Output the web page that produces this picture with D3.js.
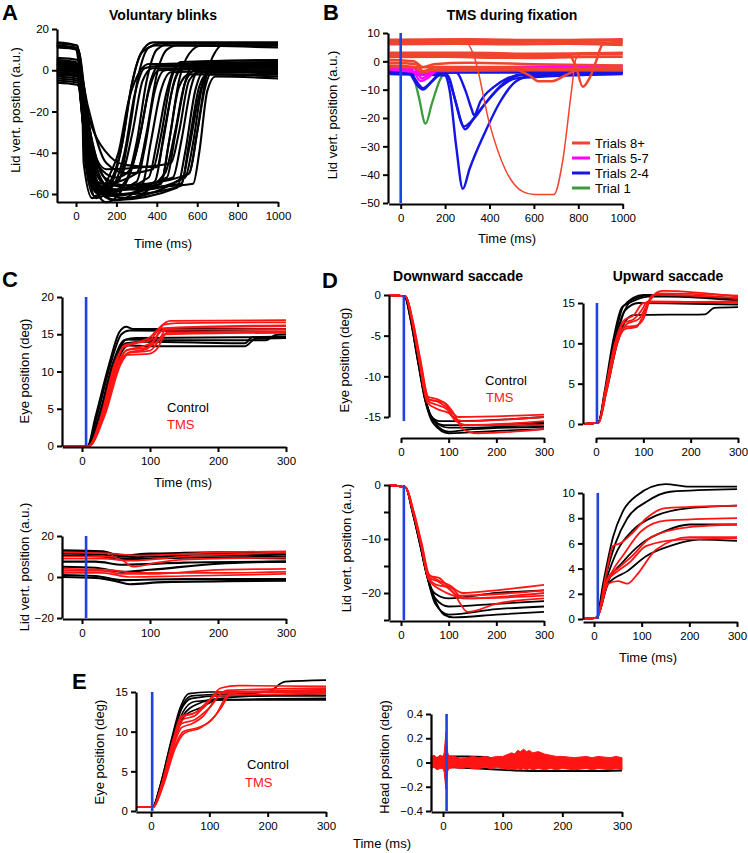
<!DOCTYPE html>
<html><head><meta charset="utf-8">
<script src="https://cdn.jsdelivr.net/npm/d3@7"></script>
<style>body{margin:0;background:#fff} svg{display:block} text{font-family:"Liberation Sans",Arial,Helvetica,sans-serif}</style>
</head><body><svg id="c" width="748" height="853"></svg>
<script>
// ---------- DATA ----------
// Panel A: voluntary blinks (time ms, lid position a.u.)
const blinkTraces = [
 [[-95,12],[0,11],[30,-10],[70,-45],[120,-58],[180,-52],[230,-35],[280,-5],[330,9],[400,12],[1000,12]],
 [[-95,13],[5,12],[40,-15],[90,-50],[160,-60],[250,-53],[300,-35],[350,-5],[400,10],[470,13],[1000,13]],
 [[-95,11],[10,10],[50,-20],[110,-52],[200,-58],[420,-55],[460,-35],[510,-5],[560,8],[620,12],[1000,12]],
 [[-95,12],[10,10],[60,-25],[130,-55],[220,-62],[560,-50],[600,-30],[640,-5],[690,9],[740,13],[1000,13]],
 [[-95,12],[0,10],[35,-20],[80,-52],[140,-55],[300,-50],[350,-30],[400,-2],[450,10],[500,12],[1000,11]],
 [[-95,13.5],[5,12],[28,-5],[40,-40],[90,-61],[170,-56],[220,-40],[270,-10],[320,8],[380,13.5],[1000,13.5]],
 [[-95,5],[0,4],[30,-20],[60,-50],[110,-60],[170,-50],[210,-40],[260,-15],[320,0],[360,3],[1000,3]],
 [[-95,3],[0,2],[25,-15],[55,-45],[100,-62],[190,-55],[240,-40],[290,-12],[340,1],[400,2],[1000,2]],
 [[-95,1],[5,0],[35,-20],[70,-50],[150,-64],[260,-52],[310,-35],[360,-10],[410,0],[1000,1]],
 [[-95,-1],[10,-2],[40,-25],[90,-55],[200,-63],[330,-55],[370,-35],[420,-10],[470,-1],[1000,0]],
 [[-95,4],[10,2],[45,-20],[100,-50],[180,-58],[360,-52],[400,-35],[450,-10],[500,2],[1000,4]],
 [[-95,2],[10,0],[50,-25],[110,-55],[230,-60],[390,-54],[430,-35],[480,-8],[530,1],[1000,2]],
 [[-95,-3],[5,-4],[40,-30],[90,-58],[170,-61],[420,-55],[460,-35],[510,-8],[560,-2],[1000,-2]],
 [[-95,0],[10,-1],[50,-30],[120,-58],[250,-62],[440,-50],[490,-30],[540,-6],[590,0],[1000,1]],
 [[-95,3],[15,1],[60,-25],[140,-52],[260,-56],[480,-52],[520,-35],[570,-8],[620,2],[1000,3]],
 [[-95,-4],[10,-5],[55,-35],[130,-60],[280,-60],[520,-56],[560,-35],[610,-8],[650,-2],[1000,-3]],
 [[-95,1],[20,-1],[80,-35],[170,-55],[320,-58],[540,-52],[580,-35],[620,-10],[660,-1],[1000,0]],
 [[-95,-2],[15,-3],[70,-35],[160,-56],[350,-55],[560,-50],[600,-30],[640,-8],[680,0],[1000,-1]],
 [[-95,5],[10,3],[50,-20],[100,-45],[200,-52],[270,-48],[320,-30],[370,-5],[420,3],[1000,4]],
 [[-95,2],[5,1],[35,-25],[80,-52],[130,-60],[300,-54],[340,-38],[390,-10],[440,0],[1000,2]],
 [[-95,-1],[10,-3],[60,-30],[150,-48],[330,-47],[470,-45],[510,-30],[560,-5],[610,-1],[1000,-1]],
 [[-95,0],[5,-1],[40,-30],[100,-57],[190,-63],[500,-57],[540,-40],[590,-10],[630,-1],[1000,0]],
 [[-95,4],[10,3],[60,-18],[150,-45],[250,-50],[380,-48],[420,-32],[470,-5],[520,4],[1000,5]],
 [[-95,-5],[10,-6],[50,-35],[110,-60],[220,-58],[580,-55],[610,-40],[650,-10],[690,-3],[1000,-4]],
 [[-95,3],[5,2],[30,-22],[65,-50],[120,-57],[210,-54],[260,-32],[310,-2],[360,11],[420,13],[1000,13]],
 [[-95,-6],[5,-7],[30,-15],[38,-45],[80,-62],[150,-58],[230,-50],[280,-30],[330,-5],[380,1],[1000,1]],
 [[-95,6],[10,5],[32,-12],[45,-42],[100,-59],[280,-57],[450,-52],[490,-32],[540,-6],[590,4],[1000,5]],
 [[-95,-2],[10,-3],[70,-25],[170,-42],[250,-46],[400,-47],[440,-28],[490,-4],[540,3],[1000,3]],
 [[-95,0],[10,-1],[45,-28],[95,-53],[160,-58],[520,-55],[560,-38],[610,-12],[660,0],[1000,-2]]
];
const aXTicks=[0,200,400,600,800,1000], aYTicks=[-60,-40,-20,0,20];

// Panel B: TMS during fixation
const fixGreen = [
 [[-50,-3],[50,-4],[80,-12],[112,-22],[140,-15],[180,-6],[210,-3.5],[300,-3],[1000,-3]]
];
const fixBlue = [
 [[-50,-4],[40,-4.5],[70,-8],[100,-10],[130,-8],[170,-5],[200,-4],[1000,-4]],
 [[-50,-3.5],[40,-4],[80,-8],[100,-9.5],[140,-7],[180,-4],[210,-3.5],[1000,-3.5]],
 [[-50,-4],[190,-4],[220,-10],[250,-30],[280,-45],[310,-38],[380,-25],[450,-14],[520,-7],[600,-5],[1000,-4]],
 [[-50,-4],[200,-4],[240,-12],[270,-21],[290,-24],[330,-20],[400,-13],[460,-8],[530,-5],[1000,-4]],
 [[-50,-4.5],[210,-5],[250,-15],[285,-23],[320,-21],[390,-14],[450,-9],[520,-6],[1000,-4.5]],
 [[-50,-4],[250,-4],[290,-10],[320,-17],[330,-19],[360,-14],[420,-9],[480,-6],[560,-4.5],[1000,-4]]
];
const fixMagenta = [
 [[-50,-2.5],[50,-3],[90,-7],[120,-6],[170,-3],[1000,-2]],
 [[-50,-2],[60,-2.5],[95,-6],[140,-4],[180,-2.5],[1000,-1.5]],
 [[-50,-3],[80,-4],[100,-5],[150,-3.5],[1000,-3]]
];
const fixRed = [
 [[-50,6.5],[200,6.8],[400,6.6],[600,6.3],[800,6.7],[1000,6.5]],
 [[-50,7.2],[200,7.5],[400,7.2],[600,7],[800,7.3],[1000,7.4]],
 [[-50,6],[250,6.2],[500,6],[750,6.2],[1000,5.8]],
 [[-50,7.6],[300,7.8],[600,7.5],[1000,7.8]],
 [[-50,2.5],[200,2.6],[400,2.3],[600,2.2],[800,2.4],[1000,2.5]],
 [[-50,1.5],[200,1.6],[400,1.3],[600,1.2],[800,1.5],[1000,1.6]],
 [[-50,3],[300,3],[600,2.7],[1000,3]],
 [[-50,0.5],[60,0],[100,-2],[150,-1],[300,-0.5],[600,-1],[1000,-1.5]],
 [[-50,-0.5],[70,-1],[100,-3.5],[160,-2],[400,-2],[700,-2.5],[1000,-2.5]],
 [[-50,-1.5],[60,-2],[100,-4],[150,-3],[500,-3],[1000,-3.2]],
 [[-50,-2],[500,-2.5],[580,-5],[620,-7],[680,-7],[740,-5],[800,-3],[1000,-2]],
 [[-50,2],[760,2],[790,-2],[820,-9],[850,-6],[880,0],[910,6],[1000,7]]
];
const fixRedDip = [
 [[-50,7],[290,7],[330,2],[400,-22],[470,-38],[550,-46],[600,-47],[690,-47],[730,-35],[770,-10],[790,1],[830,3],[1000,3]]
];
const bXTicks=[0,200,400,600,800,1000], bYTicks=[-50,-40,-30,-20,-10,0,10];
const bLegend=["Trials 8+","Trials 5-7","Trials 2-4","Trial 1"];

// Panel C: eye position and lid position (control vs TMS)
const cEyeControl = [
 [[-28,0],[8,0],[20,4],[40,11],[55,15.3],[65,16],[75,15.7],[300,15.7]],
 [[-28,0],[8,0],[22,4],[42,11],[58,15],[70,15.5],[300,15.3]],
 [[-28,0],[8,0],[25,4],[45,11],[62,14.2],[80,14.5],[300,14.6]],
 [[-28,0],[10,0],[25,4],[48,11],[65,13.8],[90,14],[240,13.8],[250,14.6],[300,14.7]],
 [[-28,0],[10,0],[28,4],[50,11],[68,13.5],[100,13.4],[240,13.4],[255,14.4],[300,14.5]],
 [[-28,0],[10,0],[27,4],[48,11],[65,14.3],[100,14.2],[270,14.2],[285,14.9],[300,15]]
];
const cEyeTMS = [
 [[-28,0],[10,0],[28,4],[48,11],[60,13.2],[80,13.8],[100,14.2],[115,16],[130,16.8],[300,16.9]],
 [[-28,0],[10,0],[30,4],[52,11],[65,12.8],[90,13.4],[105,14],[120,16.3],[140,16.5],[300,16.6]],
 [[-28,0],[10,0],[32,4],[55,11],[68,12.5],[100,12.8],[112,14],[125,15.8],[300,16.1]],
 [[-28,0],[10,0],[30,4],[53,11],[65,12.2],[100,12.4],[110,13],[125,15.2],[300,15.4]],
 [[-28,0],[10,0],[33,4],[57,11],[70,12.6],[95,13],[108,14.5],[120,15.6],[300,15.7]],
 [[-28,0],[10,0],[29,4],[50,11],[62,13.5],[85,14],[100,14.6],[115,15.8],[300,16.2]],
 [[-28,0],[10,0],[31,4],[54,11],[66,12.9],[95,13.2],[110,14],[122,15],[300,15.2]]
];
const cLidControl = [
 [[-28,13],[30,12.5],[60,10],[100,11],[200,12],[300,12]],
 [[-28,12],[30,12],[60,10.5],[100,11.5],[200,11.5],[300,11]],
 [[-28,11.5],[30,11],[60,9],[100,10],[200,10.5],[300,10]],
 [[-28,10.5],[30,10],[60,8.5],[100,9],[200,9.5],[300,9]],
 [[-28,7.5],[20,7.5],[60,6],[150,7],[300,7.5]],
 [[-28,5],[20,4.5],[60,2.5],[100,3.5],[200,6.5],[300,7.5]],
 [[-28,0],[20,-0.5],[50,-2],[70,-3.5],[120,-2.5],[300,-1.8]],
 [[-28,1],[20,0.5],[60,-1.5],[150,-1],[300,-1]]
];
const cLidTMS = [
 [[-28,10],[40,10],[60,8],[75,5],[110,7],[150,8.5],[300,9.5]],
 [[-28,9],[30,9],[70,8],[150,10],[300,12]],
 [[-28,3],[30,3],[60,1.5],[100,1.5],[200,3.5],[300,4]],
 [[-28,2],[30,2],[70,0],[150,0.5],[300,1.5]],
 [[-28,4],[40,3.5],[80,2],[200,2],[300,2.5]],
 [[-28,12],[40,11.5],[80,10.5],[200,12],[300,12.5]]
];
const cTicks=[0,100,200,300], cEyeYTicks=[0,5,10,15,20], cLidYTicks=[-20,0,20];

// Panel D: downward / upward saccades
const dDownEyeControl = [
 [[-25,0],[8,-0.2],[20,-3],[35,-8],[50,-12.5],[60,-14.5],[75,-16],[100,-16.8],[150,-16.5],[300,-16.2]],
 [[-25,0],[8,-0.2],[20,-3],[35,-8],[50,-12.8],[62,-14.8],[80,-15.5],[120,-15.5],[300,-15]],
 [[-25,0],[10,-0.2],[22,-3],[37,-8],[52,-13],[65,-15.2],[90,-16],[150,-16],[300,-15.6]],
 [[-25,0],[10,-0.2],[22,-3],[37,-8],[52,-13],[70,-15.5],[100,-16.3],[160,-16.3],[300,-15.8]],
 [[-25,0],[8,-0.2],[21,-3],[36,-8],[51,-13],[68,-15.8],[100,-17],[200,-16.7],[300,-16.5]]
];
const dDownEyeTMS = [
 [[-25,0],[10,-0.2],[23,-3],[38,-8],[55,-12.8],[70,-13],[90,-13.2],[110,-14.5],[130,-16.5],[160,-17],[300,-16.5]],
 [[-25,0],[10,-0.2],[24,-3],[40,-8],[57,-12.5],[75,-12.8],[95,-13.5],[110,-15],[130,-15.5],[300,-15]],
 [[-25,0],[10,-0.2],[23,-3],[39,-8],[56,-13],[75,-13.5],[95,-14],[115,-15.5],[140,-16],[300,-15.5]],
 [[-25,0],[10,-0.2],[24,-3],[41,-8],[58,-12.8],[80,-13.2],[100,-14],[120,-15],[300,-14.7]],
 [[-25,0],[10,-0.2],[22,-3],[38,-8],[55,-13.2],[75,-14],[100,-14.5],[130,-16],[300,-16]]
];
const dUpEyeControl = [
 [[-25,0],[5,0.2],[18,4],[35,10],[55,14.5],[70,15],[110,15.8],[150,15.8],[300,15.3]],
 [[-25,0],[5,0.2],[20,4],[40,10],[60,14],[80,15.5],[120,16],[300,15.6]],
 [[-25,0],[5,0.2],[22,4],[45,10],[65,13],[80,13.5],[230,13.6],[250,14.4],[300,14.5]],
 [[-25,0],[5,0.2],[20,4],[40,10],[60,14],[90,15],[300,14.8]],
 [[-25,0],[5,0.2],[19,4],[38,10],[58,14.6],[100,16],[300,15.5]]
];
const dUpEyeTMS = [
 [[-25,0],[6,0.2],[20,4],[42,10],[60,12],[85,12.2],[100,13],[115,15.5],[140,16.5],[300,15.8]],
 [[-25,0],[6,0.2],[21,4],[44,10],[62,11.8],[85,12],[100,13.5],[120,16],[300,15.6]],
 [[-25,0],[6,0.2],[20,4],[41,10],[58,12.5],[80,13],[95,14],[110,15.2],[300,15]],
 [[-25,0],[6,0.2],[22,4],[45,10],[65,12.4],[90,13],[110,15],[130,16.2],[300,15.9]],
 [[-25,0],[6,0.2],[19,4],[40,10],[58,12.8],[80,13.5],[100,15],[300,15.2]]
];
const dDownLidControl = [
 [[-25,0],[10,-0.5],[25,-5],[40,-11],[55,-17],[70,-21],[90,-24],[110,-24.5],[200,-24],[300,-23.5]],
 [[-25,0],[10,-0.5],[24,-5],[40,-11],[55,-17],[70,-20],[100,-21],[200,-20],[300,-19.5]],
 [[-25,0],[10,-0.5],[25,-5],[41,-11],[56,-17],[72,-21],[100,-22.5],[200,-22],[300,-21.5]],
 [[-25,0],[10,-0.5],[24,-5],[40,-11],[55,-17],[72,-22],[100,-24],[200,-23],[300,-22.5]]
];
const dDownLidTMS = [
 [[-25,0],[10,-0.5],[26,-5],[42,-11],[58,-16.5],[75,-17.5],[100,-18.5],[130,-20],[200,-19.5],[300,-18.5]],
 [[-25,0],[10,-0.5],[26,-5],[43,-11],[58,-17],[80,-18],[110,-20],[140,-23.5],[200,-22],[300,-21]],
 [[-25,0],[10,-0.5],[25,-5],[42,-11],[57,-17],[75,-18.5],[105,-19],[130,-21],[300,-20]],
 [[-25,0],[10,-0.5],[27,-5],[44,-11],[60,-16.8],[80,-17.2],[100,-19],[120,-20.5],[300,-19.5]],
 [[-25,0],[10,-0.5],[26,-5],[42,-11],[58,-17.5],[85,-19.5],[110,-20.5],[140,-21],[300,-20.5]]
];
const dUpLidControl = [
 [[-22,0],[5,0.1],[20,3],[40,6.5],[60,8.5],[90,9.8],[150,10.7],[200,10.5],[300,10.5]],
 [[-22,0],[5,0.1],[22,3],[45,6],[70,8],[110,9.3],[160,10.1],[300,10.3]],
 [[-22,0],[5,0.1],[25,3],[50,5.5],[80,7],[130,8.2],[200,8.8],[300,9]],
 [[-22,0],[5,0.1],[30,3],[60,4.5],[100,6],[150,7],[200,7.5],[300,7.5]],
 [[-22,0],[5,0.1],[30,2.8],[70,3.8],[110,5],[160,5.8],[220,6.3],[300,6.2]]
];
const dUpLidTMS = [
 [[-22,0],[6,0.1],[25,3.5],[40,5.8],[55,6],[80,6.8],[110,8],[150,8.8],[300,9]],
 [[-22,0],[6,0.1],[28,3],[45,4.2],[60,5],[100,7],[150,7.8],[300,8]],
 [[-22,0],[6,0.1],[30,2.8],[50,3],[70,2.8],[90,3.5],[130,5.5],[200,6.5],[300,6.5]],
 [[-22,0],[6,0.1],[28,3.2],[50,4],[80,5],[120,6.5],[200,7.3],[300,7.5]],
 [[-22,0],[6,0.1],[27,3],[50,3.8],[75,4.5],[110,5.8],[180,6.3],[300,6.4]]
];
const dTicks=[0,100,200,300];

// Panel E: eye and head position
const eEyeControl = [
 [[-25,0.5],[3,0.5],[15,3],[35,9],[50,13],[65,14.8],[100,15],[300,15]],
 [[-25,0.5],[3,0.5],[16,3],[37,9],[52,12.8],[70,14.2],[120,14.5],[300,14.5]],
 [[-25,0.5],[3,0.5],[17,3],[38,9],[55,12.5],[75,13.8],[120,14],[300,14]],
 [[-25,0.5],[3,0.5],[15,3],[36,9],[52,13],[70,14.5],[200,15],[230,16.3],[300,16.5]],
 [[-25,0.5],[3,0.5],[16,3],[37,9],[55,12],[80,13.5],[120,14.2],[300,14.8]],
 [[-25,0.5],[3,0.5],[18,3],[40,9],[58,12],[85,13],[115,14],[300,14.2]]
];
const eEyeTMS = [
 [[-25,0.5],[4,0.5],[18,3],[38,8],[52,10.5],[70,11],[90,12],[110,14],[130,15.2],[300,15.5]],
 [[-25,0.5],[4,0.5],[17,3],[37,8.5],[52,11],[75,11.5],[100,13],[125,15],[300,15.2]],
 [[-25,0.5],[4,0.5],[19,3],[40,8],[55,10],[80,10.5],[100,11.2],[120,13],[140,15],[300,15]],
 [[-25,0.5],[4,0.5],[18,3],[39,8.5],[54,11.5],[75,12],[95,13.5],[120,15.5],[150,15.8],[300,15.7]],
 [[-25,0.5],[4,0.5],[17,3],[38,9],[52,12],[70,12.2],[90,13],[110,14.5],[300,14.8]],
 [[-25,0.5],[4,0.5],[20,3],[42,8],[57,9.8],[85,10.5],[110,12],[135,14.8],[300,15.3]],
 [[-25,0.5],[4,0.5],[18,3],[38,8.8],[53,11.8],[78,12.5],[100,14],[120,15],[300,15]]
];
const headT     = [-20,-15,-10,-5,0,2,4,5,6,8,10,20,30,40,50,60,70,80,90,100,110,115,120,125,130,135,140,145,150,160,170,180,190,200,220,240,250,260,280,290,300];
const headUpper = [0.05,0.06,0.04,0.06,0.05,0.08,0.2,0.25,0.18,0.08,0.05,0.05,0.03,0.04,0.05,0.04,0.05,0.04,0.05,0.05,0.07,0.08,0.07,0.1,0.09,0.11,0.09,0.1,0.08,0.09,0.07,0.06,0.05,0.05,0.04,0.05,0.04,0.05,0.04,0.05,0.04];
const headLower = [-0.05,-0.04,-0.06,-0.05,-0.05,-0.08,-0.18,-0.22,-0.15,-0.07,-0.05,-0.04,-0.05,-0.04,-0.05,-0.05,-0.04,-0.05,-0.04,-0.05,-0.06,-0.05,-0.06,-0.05,-0.06,-0.05,-0.06,-0.05,-0.06,-0.05,-0.06,-0.05,-0.06,-0.05,-0.06,-0.05,-0.06,-0.05,-0.06,-0.05,-0.06];
const headBlack = [
 [[-20,0.03],[10,0.05],[40,0.05],[70,0.045],[90,0.03],[300,0.02]],
 [[-20,-0.03],[60,-0.05],[120,-0.065],[180,-0.07],[250,-0.07],[300,-0.065]]
];
const eEyeYTicks=[0,5,10,15], eHeadYTicks=[-0.4,-0.2,0,0.2,0.4];

// stimulus (TMS) time marks per panel, ms
const stimB=0, stimC=6, stimDdl=6, stimDur=2, stimDdr=8, stimEl=2, stimEr=6;

// ---------- DRAW ----------
const svg = d3.select("#c");
const FONT = '"Liberation Sans",Arial,Helvetica,sans-serif';
const BLUE="#1f44dd", RED="#ff1414", BRED="#f0442e", MAG="#ff00ff", BBLUE="#1414e6", GREEN="#3c9c3c";
const mfmt = d => d<0 ? "\u2212"+String(Math.abs(d)) : String(d);
const hfmt = d => String(d);

function panel(o){
  const g = svg.append("g");
  const x = d3.scaleLinear().domain(o.xd).range(o.xr);
  const y = d3.scaleLinear().domain(o.yd).range(o.yr);
  const ln = d3.line().x(d=>x(d[0])).y(d=>y(d[1])).curve(d3.curveMonotoneX);
  (o.series||[]).forEach(s=>{
    g.append("g").selectAll("path").data(s.data).join("path")
      .attr("d",ln).attr("fill","none").attr("stroke",s.color)
      .attr("stroke-width",s.w||1.8).attr("stroke-linejoin","round");
  });
  if(o.pre) o.pre(g,x,y);
  if(o.stim!=null){
    g.append("line").attr("x1",x(o.stim)).attr("x2",x(o.stim))
      .attr("y1",y(o.stimY[0])).attr("y2",y(o.stimY[1]))
      .attr("stroke",BLUE).attr("stroke-width",2.6);
  }
  const xs = x.copy().domain(o.xAxisExt).range(o.xAxisExt.map(x));
  const ys = y.copy().domain(o.yAxisExt).range(o.yAxisExt.map(y));
  const ga = g.append("g").attr("transform",`translate(0,${o.xAxisY})`)
    .call(d3.axisBottom(xs).tickValues(o.xTicks).tickFormat(o.xFmt||mfmt).tickSize(5).tickPadding(5).tickSizeOuter(0));
  const gy = g.append("g").attr("transform",`translate(${o.yAxisX},0)`)
    .call(d3.axisLeft(ys).tickValues(o.yTicks).tickFormat(o.yFmt||mfmt).tickSize(5).tickPadding(3).tickSizeOuter(0));
  [ga,gy].forEach(a=>{
    a.select(".domain").attr("stroke","#000").attr("stroke-width",2.2);
    a.selectAll(".tick line").attr("stroke","#000").attr("stroke-width",2);
    a.selectAll("text").attr("font-size",11.5).attr("font-family",FONT).attr("fill","#000");
  });
  return {g,x,y,ga,gy};
}
function txt(x,y,s,o={}){
  const t = svg.append("text").attr("x",x).attr("y",y).text(s)
    .attr("font-size",o.size||13).attr("font-family",FONT)
    .attr("font-weight",o.bold?"bold":"normal").attr("fill",o.color||"#000")
    .attr("text-anchor",o.anchor||"middle");
  if(o.rot) t.attr("transform",`rotate(-90,${x},${y})`);
  return t;
}

// Panel A
panel({xd:[0,1000],xr:[76,278],yd:[-60,20],yr:[194,29],
  series:[{data:blinkTraces,color:"#000",w:2.1}],
  xAxisExt:[-95,1000],xAxisY:202,xTicks:aXTicks,
  yAxisExt:[-64,20],yAxisX:57,yTicks:aYTicks});
txt(2,20,"A",{size:22,bold:true,anchor:"start"});
txt(163,20,"Voluntary blinks",{size:14,bold:true});
txt(163,248,"Time (ms)");
txt(20,110,"Lid vert. postion (a.u.)",{rot:true});

// Panel B
panel({xd:[0,1000],xr:[400.7,622.7],yd:[-50,10],yr:[203,33],
  series:[{data:fixGreen,color:GREEN,w:2.3},{data:fixBlue,color:BBLUE,w:2.4},
          {data:fixMagenta,color:MAG,w:2.2},{data:fixRed,color:BRED,w:2.5},{data:fixRedDip,color:BRED,w:1.5}],
  stim:stimB,stimY:[10,-50],
  xAxisExt:[-54,1000],xAxisY:204,xTicks:bXTicks,
  yAxisExt:[-50,10],yAxisX:388,yTicks:bYTicks});
txt(323,20,"B",{size:22,bold:true,anchor:"start"});
txt(512,20,"TMS during fixation",{size:14,bold:true});
txt(507,243,"Time (ms)");
txt(337,115,"Lid vert. position (a.u.)",{rot:true});
const legCols=[BRED,MAG,BBLUE,GREEN], legY=[143,158,173,188];
bLegend.forEach((s,i)=>{
  svg.append("line").attr("x1",572).attr("x2",590).attr("y1",legY[i]).attr("y2",legY[i]).attr("stroke",legCols[i]).attr("stroke-width",3);
  txt(595,legY[i]+4.5,s,{anchor:"start"});
});

// Panel C top
panel({xd:[0,300],xr:[82,286],yd:[0,20],yr:[446,297],
  series:[{data:cEyeControl,color:"#000",w:2},{data:cEyeTMS,color:RED,w:1.8}],
  stim:stimC,stimY:[0,20],
  xAxisExt:[-29,300],xAxisY:447,xTicks:cTicks,
  yAxisExt:[0,20],yAxisX:62,yTicks:cEyeYTicks});
txt(2,287,"C",{size:22,bold:true,anchor:"start"});
txt(167,412,"Control",{anchor:"start"});
txt(167,429,"TMS",{anchor:"start",color:RED});
txt(183,487,"Time (ms)");
txt(29,371,"Eye position (deg)",{rot:true});

// Panel C bottom
panel({xd:[0,300],xr:[82,286],yd:[-20,20],yr:[618,536],
  series:[{data:cLidControl,color:"#000",w:2.1},{data:cLidTMS,color:RED,w:1.7}],
  stim:stimC,stimY:[20,-20],
  xAxisExt:[-29,300],xAxisY:619,xTicks:cTicks,
  yAxisExt:[-20,20],yAxisX:62,yTicks:cLidYTicks});
txt(29,567,"Lid vert. position (a.u.)",{rot:true});

// Panel D top-left
panel({xd:[0,300],xr:[401,544],yd:[-15,0],yr:[417,295],
  series:[{data:dDownEyeControl,color:"#000",w:1.8},{data:dDownEyeTMS,color:RED,w:1.8}],
  stim:stimC,stimY:[0,-15.5],
  xAxisExt:[0,300],xAxisY:438,xTicks:dTicks,
  yAxisExt:[-15,0],yAxisX:389,yTicks:[-15,-10,-5,0],yFmt:hfmt});
txt(322,288,"D",{size:22,bold:true,anchor:"start"});
txt(458,281,"Downward saccade",{size:14,bold:true});
txt(485,385,"Control",{anchor:"start"});
txt(486,402,"TMS",{anchor:"start",color:RED});
txt(349,360,"Eye position (deg)",{rot:true});

// Panel D top-right
const dtr = panel({xd:[0,300],xr:[596,738],yd:[0,15],yr:[424,303],
  series:[{data:dUpEyeControl,color:"#000",w:1.8},{data:dUpEyeTMS,color:RED,w:1.8}],
  stim:stimDur,stimY:[0,15],
  xAxisExt:[0,300],xAxisY:438,xTicks:dTicks,
  yAxisExt:[0,15],yAxisX:583,yTicks:[0,5,10,15]});
txt(668,281,"Upward saccade",{size:14,bold:true});

// Panel D bottom-left
panel({xd:[0,300],xr:[401,544],yd:[-25,0],yr:[620,485],
  series:[{data:dDownLidControl,color:"#000",w:1.8},{data:dDownLidTMS,color:RED,w:1.8}],
  stim:stimDdl,stimY:[0,-25],
  xAxisExt:[-25,300],xAxisY:621,xTicks:dTicks,
  yAxisExt:[-25,0],yAxisX:389,yTicks:[-25,-20,-15,-10,-5,0],yFmt:d=>d%10===0?mfmt(d):""});
txt(351,548,"Lid vert. position (a.u.)",{rot:true});

// Panel D bottom-right
panel({xd:[0,300],xr:[594,737],yd:[0,10],yr:[619,493],
  series:[{data:dUpLidControl,color:"#000",w:1.8},{data:dUpLidTMS,color:RED,w:1.8}],
  stim:stimDdr,stimY:[0,10],
  xAxisExt:[-23,300],xAxisY:622,xTicks:dTicks,
  yAxisExt:[0,10],yAxisX:583,yTicks:[0,2,4,6,8,10]});
txt(648,662,"Time (ms)");

// Panel E left
panel({xd:[0,300],xr:[151,326],yd:[0,15],yr:[811,692],
  series:[{data:eEyeControl,color:"#000",w:1.7},{data:eEyeTMS,color:RED,w:1.7}],
  stim:stimEl,stimY:[0,15],
  xAxisExt:[-26,300],xAxisY:812,xTicks:dTicks,
  yAxisExt:[0,15],yAxisX:136,yTicks:eEyeYTicks});
txt(72,689,"E",{size:22,bold:true,anchor:"start"});
txt(247,769,"Control",{anchor:"start"});
txt(245,787,"TMS",{anchor:"start",color:RED});
txt(104,752,"Eye position (deg)",{rot:true});
txt(382,848,"Time (ms)");

// Panel E right
panel({xd:[0,300],xr:[443,622],yd:[-0.4,0.4],yr:[811,714],
  series:[{data:headBlack,color:"#000",w:2}],
  pre:(g,x,y)=>{
    const pts = headT.map((t,i)=>({t,u:headUpper[i],l:headLower[i]}));
    g.append("path").datum(pts)
      .attr("d",d3.area().x(d=>x(d.t)).y0(d=>y(d.l)).y1(d=>y(d.u)).curve(d3.curveLinear))
      .attr("fill",RED).attr("stroke",RED).attr("stroke-width",1);
  },
  stim:stimEr,stimY:[-0.4,0.4],
  xAxisExt:[-20,300],xAxisY:812,xTicks:dTicks,
  yAxisExt:[-0.4,0.4],yAxisX:431,yTicks:eHeadYTicks});
txt(389,757,"Head position (deg)",{rot:true});
</script></body></html>
